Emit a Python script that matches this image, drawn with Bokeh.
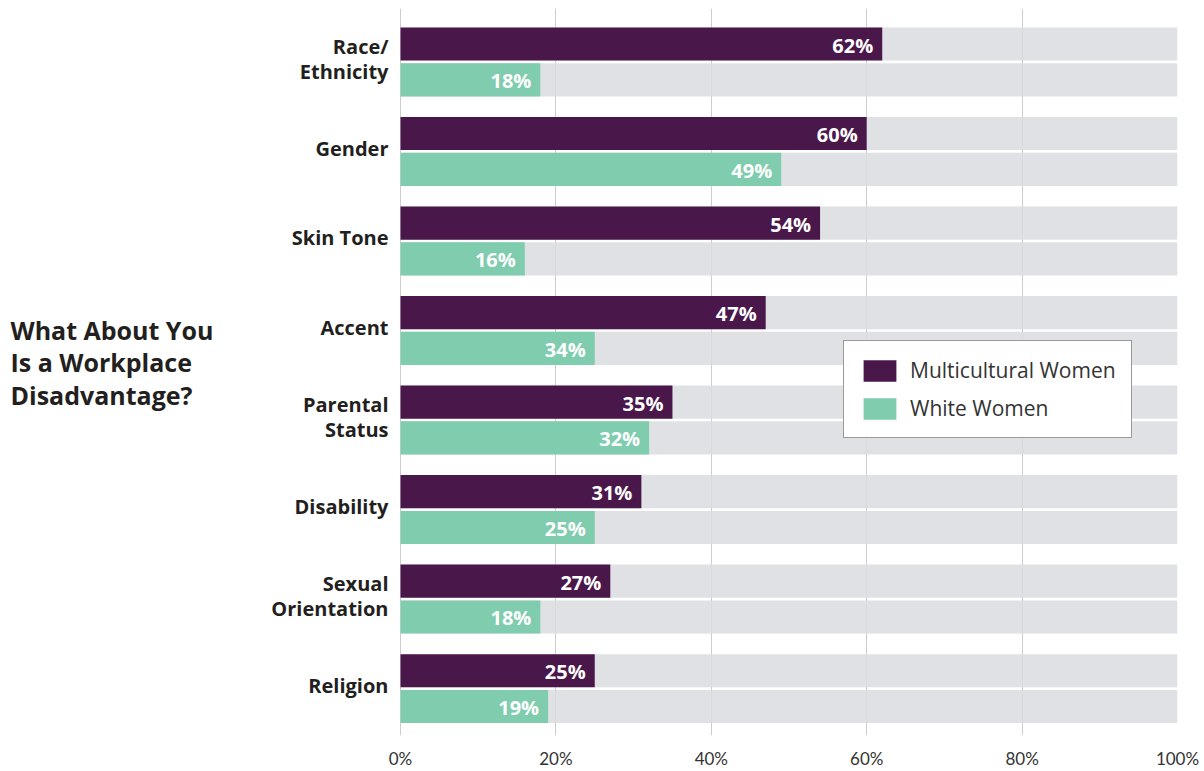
from bokeh.plotting import figure
from bokeh.models import ColumnDataSource, FixedTicker, Label, Legend, LegendItem, Range1d
from bokeh.core.properties import value
from bokeh.embed import file_html
from bokeh.resources import INLINE

categories = ["Race/\nEthnicity", "Gender", "Skin Tone", "Accent", "Parental\nStatus",
              "Disability", "Sexual\nOrientation", "Religion"]
multicultural = [62, 60, 54, 47, 35, 31, 27, 25]
white = [18, 49, 16, 25, 32, 25, 18, 19]
multicultural_labels = ["62%", "60%", "54%", "47%", "35%", "31%", "27%", "25%"]
white_labels = ["18%", "49%", "16%", "34%", "32%", "25%", "18%", "19%"]
x_ticks = [0, 20, 40, 60, 80, 100]
scale_max = 100

PURPLE = "#4A174B"
GREEN = "#80CCAE"
TEXT = "#231F20"

n = len(categories)
centers = [n - 1 - i for i in range(n)]
off = 0.2
bh = 0.37

src_m = ColumnDataSource(dict(y=[c + off for c in centers], x=multicultural, lab=multicultural_labels))
src_w = ColumnDataSource(dict(y=[c - off for c in centers], x=white, lab=white_labels))
src_bg = ColumnDataSource(dict(y=[c + off for c in centers] + [c - off for c in centers],
                               x=[scale_max] * (2 * n)))
src_cat = ColumnDataSource(dict(y=centers, x=[0] * n, lab=categories))

# frame spans the whole width; the left part of the x range holds the labels and title
left_room = 400 / (777 / scale_max)
p = figure(width=1204, height=771, output_backend="svg", toolbar_location=None,
           x_range=Range1d(-left_room, scale_max), y_range=Range1d(-0.524, n - 1 + 0.597),
           min_border_left=0, min_border_right=27, min_border_top=8, min_border_bottom=28)
p.outline_line_color = None
p.background_fill_color = "white"
p.border_fill_color = "white"

# grid
p.ygrid.grid_line_color = None
p.xgrid.ticker = FixedTicker(ticks=x_ticks)
p.xgrid.grid_line_color = "#CDCDCD"
p.xgrid.grid_line_width = 1

p.hbar(y="y", right="x", left=0, height=bh, source=src_bg, fill_color="#DADCE1",
       fill_alpha=0.85, line_color=None)
r_m = p.hbar(y="y", right="x", left=0, height=bh, source=src_m, fill_color=PURPLE, line_color=None)
r_w = p.hbar(y="y", right="x", left=0, height=bh, source=src_w, fill_color=GREEN, line_color=None)

for src in (src_m, src_w):
    p.text(x="x", y="y", text="lab", source=src, text_align="right", text_baseline="middle",
           x_offset=-9, y_offset=1, text_color="white", text_font=value("Open Sans"),
           text_font_style="bold", text_font_size="20px")

# category labels
p.text(x="x", y="y", text="lab", source=src_cat, text_align="right", text_baseline="middle",
       x_offset=-12, y_offset=-3, text_color=TEXT, text_font=value("Open Sans"),
       text_font_style="bold", text_font_size="20px", text_line_height=0.95)

# axes
p.yaxis.visible = False
p.xaxis.ticker = FixedTicker(ticks=x_ticks)
p.xaxis.major_label_overrides = {t: f"{t}%" for t in x_ticks}
p.xaxis.axis_line_color = None
p.xaxis.major_tick_line_color = None
p.xaxis.minor_tick_line_color = None
p.xaxis.major_tick_out = 0
p.xaxis.major_tick_in = 0
p.xaxis.minor_tick_out = 0
p.xaxis.major_label_text_font = "Lato"
p.xaxis.major_label_text_font_size = "17px"
p.xaxis.major_label_text_color = "#333333"
p.xaxis.major_label_standoff = 12

# title (screen units are relative to the plot frame)
title = Label(x=10, y=423, x_units="screen", y_units="screen",
              text="What About You\nIs a Workplace\nDisadvantage?",
              text_font="Open Sans", text_font_style="bold", text_font_size="25px",
              text_color=TEXT, text_baseline="top", text_align="left", text_line_height=0.97)
p.add_layout(title)

legend = Legend(items=[LegendItem(label="Multicultural Women", renderers=[r_m]),
                       LegendItem(label="White Women", renderers=[r_w])],
                location=(843, 297), label_text_font="Open Sans", label_text_font_size="21px",
                label_text_color="#333333", glyph_width=41, glyph_height=27, spacing=10,
                padding=15, label_standoff=10, border_line_color="#333333", border_line_width=1,
                background_fill_color="white", background_fill_alpha=1, margin=0)
p.add_layout(legend)

open("out.html", "w").write(file_html(p, INLINE))
